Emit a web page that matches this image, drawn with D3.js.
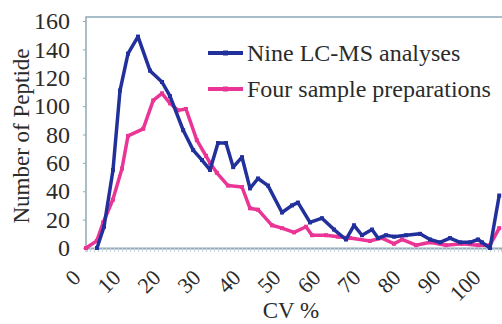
<!DOCTYPE html>
<html lang="en">
<head>
    <meta charset="UTF-8">
    <title>CV distribution</title>
    <script src="https://cdn.jsdelivr.net/npm/d3@7"></script>
    <style>
        body { margin: 0; background: #fff; }
        svg text { font-family: "Liberation Serif", "Times New Roman", Times, "Nimbus Roman", "DejaVu Serif", serif; fill: #2b2b2b; }
    </style>
</head>
<body>
    <div id="chart"></div>
    <script>
        // data
        const nineCV    = [2.75, 4.5, 6.75, 8.5, 10.5, 13, 16, 19, 21, 24.3, 26.8, 29, 31, 33, 35, 36.8, 39, 41, 43, 45.5, 49, 51.5, 53, 56, 59, 62, 65, 67, 69, 71.5, 73, 75, 77, 80, 83.5, 86, 88.5, 91, 93.5, 96, 98, 99, 101, 103.3];
        const nineCount = [0, 15, 55, 111, 137, 149, 125, 117, 107, 83, 69, 62, 55, 74, 74, 57, 64, 42, 49, 44, 25, 30, 32, 18, 21, 13, 6, 16, 9, 13, 7, 9, 8, 9, 10, 6, 4, 7, 4, 4, 6, 4, 0, 37];

        const fourCV    = [0, 2.7, 4.3, 6.7, 9, 10.5, 14.3, 16.8, 19, 21, 23, 25, 27.7, 30, 31, 32.7, 35.5, 39, 41, 43, 46.5, 49, 52, 55, 56.5, 60, 63, 66, 71, 74, 77, 79, 82.5, 86, 90, 94, 98, 101, 103.3];
        const fourCount = [0, 5, 18, 34, 56, 79, 84, 104, 109, 102, 97, 98, 76, 65, 60, 53, 44, 43, 28, 27, 16, 14, 11, 15, 9, 9, 8, 7, 5, 7, 3, 6, 2, 4, 2, 3, 2, 2, 14];

        const yTicks = [0, 20, 40, 60, 80, 100, 120, 140, 160];
        const xTicks = [0, 10, 20, 30, 40, 50, 60, 70, 80, 90, 100];
        const seriesNames = ["Nine LC-MS analyses", "Four sample preparations"];

        const W = 502, H = 324;
        const plotLeft = 86, plotRight = 502, plotTop = 17, plotBottom = 248;

        const svg = d3.select("#chart").append("svg")
            .attr("width", W).attr("height", H);

        const x = d3.scaleLinear().domain([0, 104]).range([plotLeft, plotRight]);
        const y = d3.scaleLinear().domain([0, 160]).range([plotBottom, 21]);

        // frame
        const frameColor = "#8fa9b8";
        svg.append("path")
            .attr("d", `M${plotLeft},${plotBottom}V${plotTop}H${plotRight}`)
            .attr("fill", "none").attr("stroke", frameColor).attr("stroke-width", 1.5);

        // y axis
        const yAxis = svg.append("g")
            .attr("transform", `translate(${plotLeft},0)`)
            .call(d3.axisLeft(y).tickValues(yTicks).tickSize(3).tickPadding(13));
        yAxis.attr("font-family", null);
        yAxis.select(".domain").remove();
        yAxis.selectAll("line").attr("stroke", frameColor);
        yAxis.selectAll("text").style("font-size", "24px").attr("fill", "#2b2b2b");

        // x axis with minor ticks
        const xAxis = svg.append("g")
            .attr("transform", `translate(0,${plotBottom})`)
            .call(d3.axisBottom(x).tickValues(d3.range(0, 105, 1)).tickSize(4).tickFormat(""));
        xAxis.select(".domain").attr("stroke", frameColor).attr("stroke-width", 2);
        xAxis.selectAll("line").attr("stroke", "#c8d4da");

        svg.append("g").selectAll("text")
            .data(xTicks)
            .enter().append("text")
            .attr("transform", d => `translate(${x(d) - 4},${plotBottom + 31}) rotate(-45)`)
            .attr("text-anchor", "end")
            .style("font-size", "22px")
            .text(d => d);

        // axis titles
        svg.append("text")
            .attr("transform", "rotate(-90)")
            .attr("x", -136).attr("y", 29)
            .attr("text-anchor", "middle")
            .style("font-size", "23px")
            .text("Number of Peptide");

        svg.append("text")
            .attr("x", 291).attr("y", 318)
            .attr("text-anchor", "middle")
            .style("font-size", "23px")
            .text("CV %");

        // lines
        const line = d3.line().x(d => x(d[0])).y(d => y(d[1]));
        const series = [
            { cv: nineCV, count: nineCount, color: "#22309c" },
            { cv: fourCV, count: fourCount, color: "#ea3596" }
        ];
        series.slice().reverse().forEach(s => {
            const pts = s.cv.map((c, i) => [c, s.count[i]]);
            svg.append("path")
                .datum(pts)
                .attr("d", line)
                .attr("fill", "none")
                .attr("stroke", s.color)
                .attr("stroke-width", 3.5)
                .attr("stroke-linejoin", "round");
            svg.append("g").selectAll("rect")
                .data(pts).enter().append("rect")
                .attr("x", d => x(d[0]) - 2).attr("y", d => y(d[1]) - 2)
                .attr("width", 4).attr("height", 4)
                .attr("fill", s.color);
        });

        // legend
        const legend = svg.append("g");
        seriesNames.forEach((name, i) => {
            const ly = 53 + i * 36;
            legend.append("line")
                .attr("x1", 208).attr("x2", 243).attr("y1", ly).attr("y2", ly)
                .attr("stroke", series[i].color).attr("stroke-width", 4);
            legend.append("rect")
                .attr("x", 223).attr("y", ly - 2.5).attr("width", 5).attr("height", 5)
                .attr("fill", series[i].color);
            legend.append("text")
                .attr("x", 247).attr("y", ly + 8)
                .style("font-size", "24px")
                .text(name);
        });
    </script>
</body>
</html>
